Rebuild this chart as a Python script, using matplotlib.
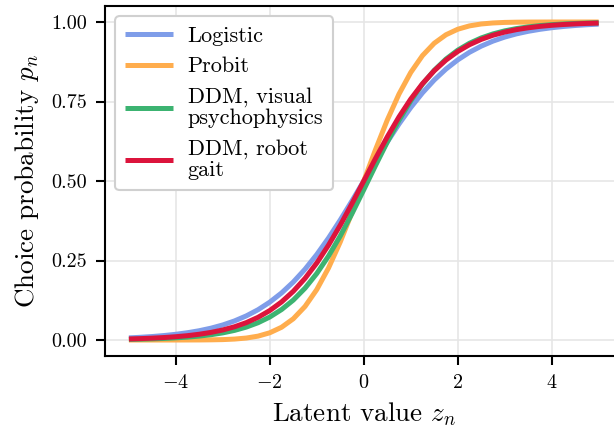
import matplotlib
matplotlib.use("Agg")
import matplotlib.pyplot as plt

plt.rcParams['font.family'] = ['serif']
plt.rcParams['font.serif'] = ['cmr10', 'DejaVu Serif']
plt.rcParams['mathtext.fontset'] = 'cm'
plt.rcParams['axes.formatter.use_mathtext'] = True
plt.rcParams['axes.unicode_minus'] = True

z = [-5.0, -4.75, -4.5, -4.25, -4.0, -3.75, -3.5, -3.25, -3.0, -2.75, -2.5,
     -2.25, -2.0, -1.75, -1.5, -1.25, -1.0, -0.75, -0.5, -0.25, 0.0,
     0.25, 0.5, 0.75, 1.0, 1.25, 1.5, 1.75, 2.0, 2.25, 2.5,
     2.75, 3.0, 3.25, 3.5, 3.75, 4.0, 4.25, 4.5, 4.75, 5.0]

p_logistic = [0.0067, 0.0086, 0.0110, 0.0141, 0.0180, 0.0230, 0.0293, 0.0373, 0.0474, 0.0601, 0.0759,
              0.0953, 0.1192, 0.1480, 0.1824, 0.2227, 0.2689, 0.3208, 0.3775, 0.4378, 0.5000,
              0.5622, 0.6225, 0.6792, 0.7311, 0.7773, 0.8176, 0.8520, 0.8808, 0.9047, 0.9241,
              0.9399, 0.9526, 0.9627, 0.9707, 0.9770, 0.9820, 0.9859, 0.9890, 0.9914, 0.9933]

p_probit = [0.0000, 0.0000, 0.0000, 0.0000, 0.0000, 0.0001, 0.0002, 0.0006, 0.0013, 0.0030, 0.0062,
            0.0122, 0.0228, 0.0401, 0.0668, 0.1056, 0.1587, 0.2266, 0.3085, 0.4013, 0.5000,
            0.5987, 0.6915, 0.7734, 0.8413, 0.8944, 0.9332, 0.9599, 0.9772, 0.9878, 0.9938,
            0.9970, 0.9987, 0.9994, 0.9998, 0.9999, 1.0000, 1.0000, 1.0000, 1.0000, 1.0000]

p_ddm_visual = [0.0020, 0.0027, 0.0037, 0.0050, 0.0068, 0.0091, 0.0124, 0.0167, 0.0225, 0.0303, 0.0407,
                0.0544, 0.0724, 0.0958, 0.1256, 0.1631, 0.2092, 0.2641, 0.3274, 0.3977, 0.4725,
                0.5486, 0.6225, 0.6910, 0.7521, 0.8046, 0.8481, 0.8834, 0.9113, 0.9331, 0.9498,
                0.9625, 0.9721, 0.9793, 0.9846, 0.9886, 0.9916, 0.9938, 0.9954, 0.9966, 0.9975]

p_ddm_robot = [0.0033, 0.0044, 0.0059, 0.0078, 0.0104, 0.0137, 0.0182, 0.0240, 0.0317, 0.0417, 0.0547,
               0.0714, 0.0928, 0.1197, 0.1532, 0.1939, 0.2423, 0.2984, 0.3612, 0.4292, 0.5000,
               0.5708, 0.6388, 0.7016, 0.7577, 0.8061, 0.8468, 0.8803, 0.9072, 0.9286, 0.9453,
               0.9583, 0.9683, 0.9760, 0.9818, 0.9863, 0.9896, 0.9922, 0.9941, 0.9956, 0.9967]

labels = ["Logistic", "Probit", "DDM, visual\npsychophysics", "DDM, robot\ngait"]
series = [p_logistic, p_probit, p_ddm_visual, p_ddm_robot]
colors = ["#7f9de9", "#ffad4d", "#3cb371", "#dc143c"]

x_ticks = [-4, -2, 0, 2, 4]
y_ticks = [0.00, 0.25, 0.50, 0.75, 1.00]

fig = plt.figure(figsize=(6.14, 4.30), dpi=100)
ax = fig.add_axes([0.1717, 0.1723, 0.8415, 0.8135])

for vals, lab, col in zip(series, labels, colors):
    ax.plot(z, vals, color=col, lw=3.6, label=lab, solid_capstyle='butt')

ax.set_xlim(-5.5, 5.5)
ax.set_ylim(-0.05, 1.05)
ax.set_xticks(x_ticks)
ax.set_yticks(y_ticks)
ax.set_yticklabels([f"{v:.2f}" for v in y_ticks])
ax.grid(True, color='#e6e6e6', lw=1.2)
ax.set_axisbelow(True)
for s in ax.spines.values():
    s.set_linewidth(1.5)
    s.set_color('black')
ax.tick_params(direction='out', length=6.5, width=1.5, labelsize=14.5, pad=6.5)

ax.set_xlabel(r"Latent value $z_n$", fontsize=19.5, labelpad=6)
ax.set_ylabel(r"Choice probability $p_n$", fontsize=19.5, labelpad=8)

leg = ax.legend(loc='upper left', fontsize=16, handlelength=2.15, handletextpad=0.65,
                borderpad=0.45, labelspacing=0.5, borderaxespad=0.45, fancybox=True,
                framealpha=1.0, edgecolor='#d0d0d0')
leg.get_frame().set_linewidth(1.5)
for t in leg.get_texts():
    t.set_linespacing(1.1)
for h in leg.get_lines():
    h.set_linewidth(3.6)

fig.savefig("out.png", dpi=100)
